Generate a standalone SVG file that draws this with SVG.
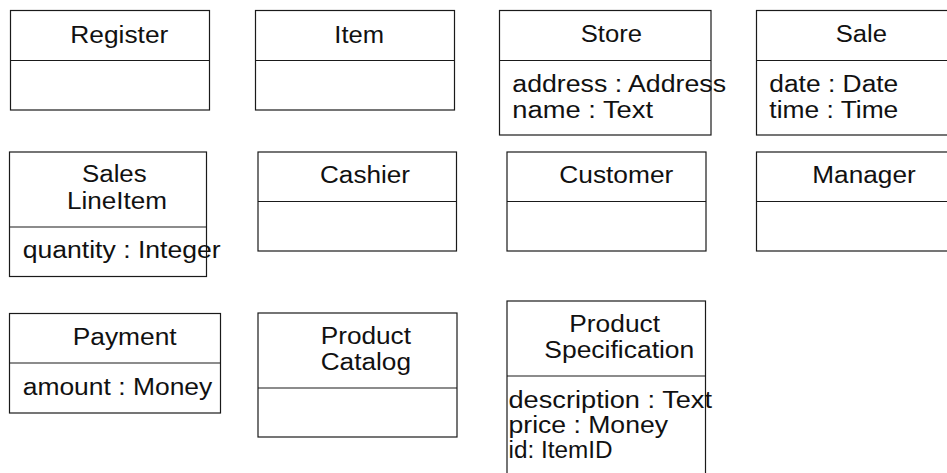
<svg xmlns="http://www.w3.org/2000/svg" width="947" height="473" viewBox="0 0 947 473">
<style>
.box{fill:#fff;stroke:#1a1a1a;stroke-width:1.2}
.div{stroke:#1a1a1a;stroke-width:1.2}
text{font-family:"Liberation Sans",Arial,sans-serif;font-size:23px;fill:#111}
</style>
<rect width="947" height="473" fill="#fff"/>
<g id="Register">
<rect class="box" x="10.5" y="10.5" width="199" height="99.5"/>
<line class="div" x1="10.5" y1="60.5" x2="209.5" y2="60.5"/>
<text x="70.3" y="42.7" textLength="98" lengthAdjust="spacingAndGlyphs">Register</text>
</g>
<g id="Item">
<rect class="box" x="255.5" y="10.5" width="199" height="99.5"/>
<line class="div" x1="255.5" y1="60.5" x2="454.5" y2="60.5"/>
<text x="334.3" y="42.7" textLength="49.7" lengthAdjust="spacingAndGlyphs">Item</text>
</g>
<g id="Store">
<rect class="box" x="499.5" y="10.5" width="211.5" height="124.5"/>
<line class="div" x1="499.5" y1="60.5" x2="711" y2="60.5"/>
<text x="580.7" y="42" textLength="61.3" lengthAdjust="spacingAndGlyphs">Store</text>
<text x="512.3" y="92.3" textLength="213.7" lengthAdjust="spacingAndGlyphs">address : Address</text>
<text x="512.3" y="118.3" textLength="140.7" lengthAdjust="spacingAndGlyphs">name : Text</text>
</g>
<g id="Sale">
<rect class="box" x="756.5" y="10.5" width="210" height="124.5"/>
<line class="div" x1="756.5" y1="60.5" x2="966.5" y2="60.5"/>
<text x="835.7" y="42" textLength="51.3" lengthAdjust="spacingAndGlyphs">Sale</text>
<text x="769.3" y="92.3" textLength="129" lengthAdjust="spacingAndGlyphs">date : Date</text>
<text x="769.3" y="118.3" textLength="129" lengthAdjust="spacingAndGlyphs">time : Time</text>
</g>
<g id="SalesLineItem">
<rect class="box" x="9.5" y="152" width="197" height="124.5"/>
<line class="div" x1="9.5" y1="227" x2="206.5" y2="227"/>
<text x="82" y="181.7" textLength="64.7" lengthAdjust="spacingAndGlyphs">Sales</text>
<text x="67" y="209" textLength="100" lengthAdjust="spacingAndGlyphs">LineItem</text>
<text x="22.7" y="258.3" textLength="198" lengthAdjust="spacingAndGlyphs">quantity : Integer</text>
</g>
<g id="Cashier">
<rect class="box" x="258" y="152" width="198.5" height="99"/>
<line class="div" x1="258" y1="201.5" x2="456.5" y2="201.5"/>
<text x="320" y="183.3" textLength="90" lengthAdjust="spacingAndGlyphs">Cashier</text>
</g>
<g id="Customer">
<rect class="box" x="507" y="152" width="199" height="99"/>
<line class="div" x1="507" y1="201.5" x2="706" y2="201.5"/>
<text x="559.3" y="183.3" textLength="114" lengthAdjust="spacingAndGlyphs">Customer</text>
</g>
<g id="Manager">
<rect class="box" x="756.5" y="152" width="210" height="99"/>
<line class="div" x1="756.5" y1="201.5" x2="966.5" y2="201.5"/>
<text x="812.3" y="183.3" textLength="103.4" lengthAdjust="spacingAndGlyphs">Manager</text>
</g>
<g id="Payment">
<rect class="box" x="9.5" y="313.5" width="211" height="99.5"/>
<line class="div" x1="9.5" y1="363" x2="220.5" y2="363"/>
<text x="72.7" y="345" textLength="104" lengthAdjust="spacingAndGlyphs">Payment</text>
<text x="22.7" y="395" textLength="189.6" lengthAdjust="spacingAndGlyphs">amount : Money</text>
</g>
<g id="ProductCatalog">
<rect class="box" x="258" y="313" width="199" height="124"/>
<line class="div" x1="258" y1="388" x2="457" y2="388"/>
<text x="320.7" y="344.3" textLength="90.3" lengthAdjust="spacingAndGlyphs">Product</text>
<text x="320.7" y="370" textLength="90.3" lengthAdjust="spacingAndGlyphs">Catalog</text>
</g>
<g id="ProductSpecification">
<rect class="box" x="507" y="301" width="198.5" height="190"/>
<line class="div" x1="507" y1="376" x2="705.5" y2="376"/>
<text x="569.3" y="331.7" textLength="90.7" lengthAdjust="spacingAndGlyphs">Product</text>
<text x="544.3" y="357.7" textLength="150" lengthAdjust="spacingAndGlyphs">Specification</text>
<text x="508.5" y="408.3" textLength="203.5" lengthAdjust="spacingAndGlyphs">description : Text</text>
<text x="508.5" y="433.3" textLength="159.5" lengthAdjust="spacingAndGlyphs">price : Money</text>
<text x="508.5" y="458.3" textLength="104" lengthAdjust="spacingAndGlyphs">id: ItemID</text>
</g>
<g id="connectors"></g>
</svg>
